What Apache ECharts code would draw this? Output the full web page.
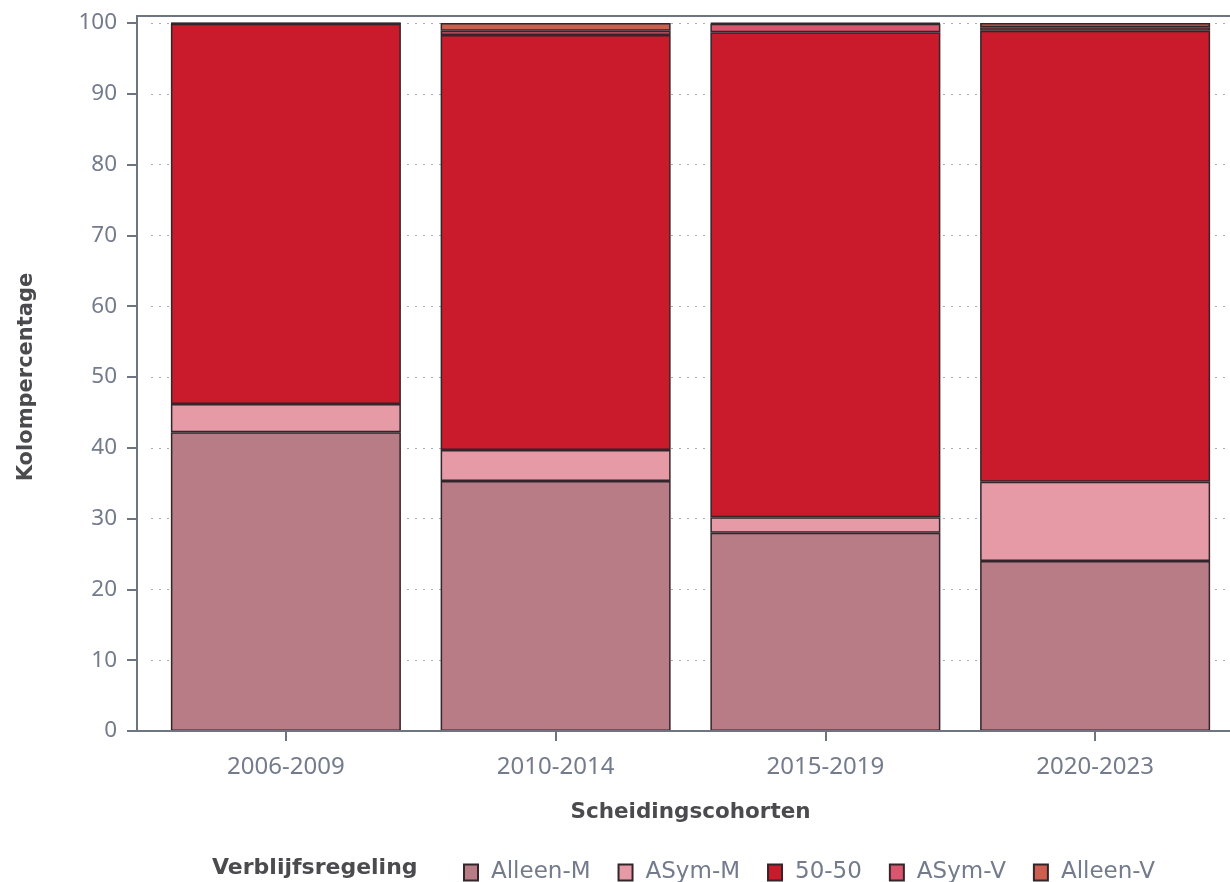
<!DOCTYPE html>
<html>
<head>
<meta charset="utf-8">
<script src="https://cdn.jsdelivr.net/npm/echarts@6/dist/echarts.min.js"></script>
<style>
  html, body { margin: 0; padding: 0; background: #fff; }
  #container { width: 1230px; height: 882px; }
</style>
</head>
<body>
<div id="container"></div>
<script>
var cohorts = ['2006-2009', '2010-2014', '2015-2019', '2020-2023'];
var regelingen = ['Alleen-M', 'ASym-M', '50-50', 'ASym-V', 'Alleen-V'];
var colors = ['#b87c86', '#e59aa6', '#c91b2b', '#d9566e', '#cd5f4f'];

// column percentages per cohort
var alleenM = [42.2, 35.3, 28.0, 24.0];
var asymM = [4.0, 4.4, 2.2, 11.2];
var vijftig = [53.7, 58.6, 68.5, 63.7];
var asymV = [0.05, 0.6, 1.2, 0.5];
var alleenV = [0.05, 1.1, 0.1, 0.6];
var yTicks = [0, 10, 20, 30, 40, 50, 60, 70, 80, 90, 100];

var values = [alleenM, asymM, vijftig, asymV, alleenV];

var dom = document.getElementById('container');
var myChart = echarts.init(dom);

var fontFam = 'Noto Sans';
var wideFam = 'DejaVu Sans';
var labelGray = '#737b8c';
var titleGray = '#4b4b4f';

var series = regelingen.map(function(name, i) {
  return {
    name: name,
    type: 'bar',
    stack: 'totaal',
    barWidth: 230,
    xAxisIndex: 0,
    yAxisIndex: 0,
    itemStyle: {
      color: colors[i],
      borderColor: '#33252a',
      borderWidth: 1.5
    },
    emphasis: { disabled: true },
    data: values[i]
  };
});

var option = {
  animation: false,
  textStyle: { fontFamily: fontFam },
  title: {
    text: 'Verblijfsregeling',
    left: 212,
    top: 857,
    padding: 0,
    textStyle: { fontSize: 22, fontWeight: 'bold', color: titleGray, fontFamily: wideFam }
  },
  legend: {
    data: regelingen,
    left: 463,
    top: 861,
    icon: 'rect',
    itemWidth: 14,
    itemHeight: 16,
    itemGap: 27,
    padding: 0,
    textStyle: { fontSize: 23, color: labelGray, fontFamily: wideFam, padding: [0, 0, 0, 8] }
  },
  grid: [
    { left: 151, right: 0, top: 23, bottom: 151, containLabel: false, outerBoundsMode: 'none' },
    { left: 137, right: -20, top: 16, bottom: 151, show: true, borderColor: '#6e7582', borderWidth: 2, backgroundColor: 'transparent', z: 5, outerBoundsMode: 'none' }
  ],
  xAxis: [
    {
      type: 'category',
      gridIndex: 0,
      data: cohorts,
      axisLine: { show: false },
      axisTick: { show: true, alignWithLabel: true, length: 10, lineStyle: { color: '#6e7582', width: 2 } },
      axisLabel: { fontSize: 24, color: labelGray, margin: 24 },
      name: 'Scheidingscohorten',
      nameLocation: 'middle',
      nameGap: 70,
      nameTextStyle: { fontSize: 21.5, fontWeight: 'bold', color: titleGray, fontFamily: wideFam }
    },
    { type: 'value', gridIndex: 1, show: false, min: 0, max: 1 }
  ],
  yAxis: [
    {
      type: 'value',
      gridIndex: 0,
      min: yTicks[0],
      max: yTicks[yTicks.length - 1],
      interval: 10,
      offset: 14,
      axisLine: { show: false },
      axisTick: { show: true, length: 10, lineStyle: { color: '#6e7582', width: 2 } },
      axisLabel: { fontSize: 22.5, color: labelGray, margin: 20 },
      splitLine: { show: true, lineStyle: { color: '#a9adb5', type: [2, 6], width: 1.2 } },
      name: 'Kolompercentage',
      nameLocation: 'middle',
      nameGap: 100,
      nameTextStyle: { fontSize: 21, fontWeight: 'bold', color: titleGray, fontFamily: wideFam }
    },
    { type: 'value', gridIndex: 1, show: false, min: 0, max: 1 }
  ],
  series: series
};

myChart.setOption(option);
</script>
</body>
</html>
